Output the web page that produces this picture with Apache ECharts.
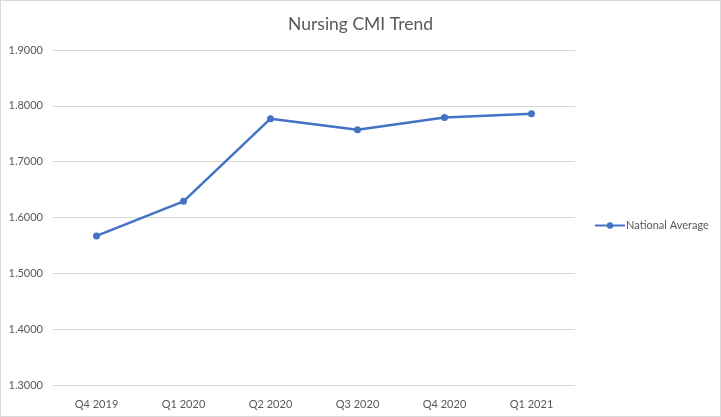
<!DOCTYPE html>
<html>
<head>
<meta charset="utf-8">
<script src="https://cdn.jsdelivr.net/npm/echarts@6/dist/echarts.min.js"></script>
<style>
html,body{margin:0;padding:0;background:#fff;}
#chart{width:721px;height:417px;box-sizing:border-box;border:1px solid #d9d9d9;}
</style>
</head>
<body>
<div id="chart"></div>
<script>
const categories = ["Q4 2019","Q1 2020","Q2 2020","Q3 2020","Q4 2020","Q1 2021"];
const nationalAverage = [1.567, 1.629, 1.777, 1.757, 1.779, 1.786];
const seriesName = "National Average";
const chartTitle = "Nursing CMI Trend";

const chart = echarts.init(document.getElementById('chart'));
chart.setOption({
  animation: false,
  title: {
    text: chartTitle,
    left: 'center',
    top: 9,
    textStyle: {fontFamily: 'Lato', fontSize: 17.5, fontWeight: 'normal', color: '#595959'}
  },
  legend: {
    data: [seriesName],
    orient: 'vertical',
    left: 588,
    top: 214,
    itemWidth: 30,
    itemHeight: 8,
    itemGap: 4,
    textStyle: {fontFamily: 'Lato', fontSize: 11, color: '#595959', padding: [0,0,0,-4]}
  },
  grid: {left: 52, right: 145, top: 49, bottom: 31, containLabel: false},
  xAxis: {
    type: 'category',
    data: categories,
    boundaryGap: true,
    axisLine: {show: false},
    axisTick: {show: false},
    axisLabel: {fontFamily: 'Lato', fontSize: 11, color: '#595959', margin: 14}
  },
  yAxis: {
    type: 'value',
    min: 1.3,
    max: 1.9,
    interval: 0.1,
    axisLine: {show: false},
    axisTick: {show: false},
    splitLine: {lineStyle: {color: '#d9d9d9', width: 1}},
    axisLabel: {fontFamily: 'Lato', fontSize: 11, color: '#595959', margin: 10,
      formatter: v => v.toFixed(4)}
  },
  series: [{
    name: seriesName,
    type: 'line',
    data: nationalAverage,
    symbol: 'circle',
    symbolSize: 7,
    lineStyle: {color: '#4472C4', width: 2.5},
    itemStyle: {color: '#4472C4'}
  }]
});
</script>
</body>
</html>
